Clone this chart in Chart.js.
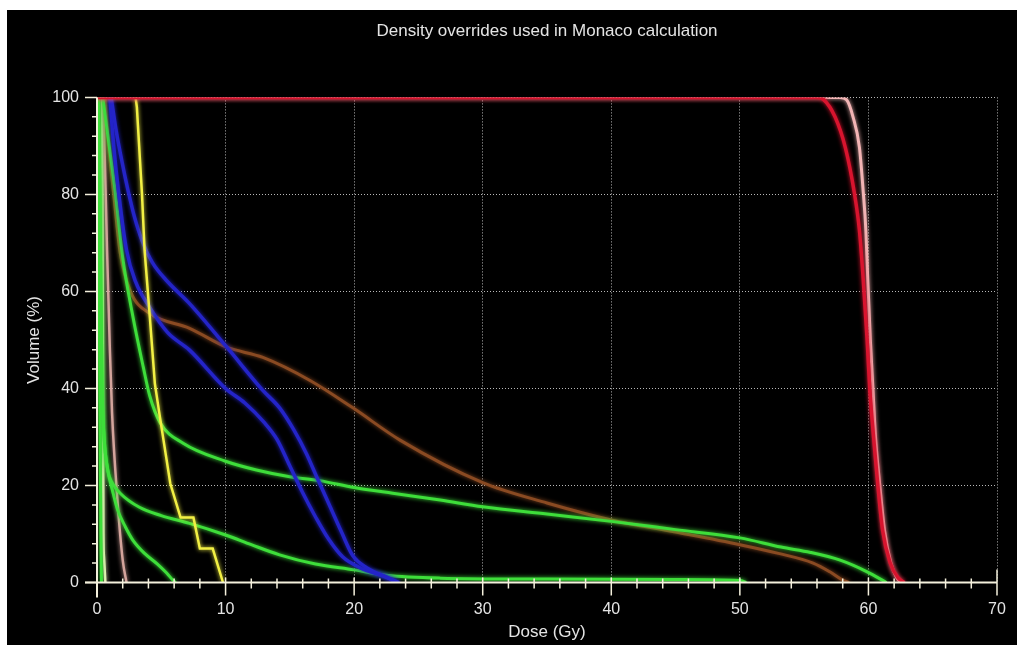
<!DOCTYPE html>
<html>
<head>
<meta charset="utf-8">
<script src="https://cdn.jsdelivr.net/npm/chart.js@4"></script>
<style>
  body { margin: 0; background: #fff; }
  #wrap { position: relative; width: 1021px; height: 652px; }
</style>
</head>
<body>
<div id="wrap"><canvas id="dvh"></canvas></div>
<script>
// dose (Gy) / volume (%)
const redDose   = [0, 56, 56.5, 57.4, 58.2, 58.9, 59.3, 59.6, 59.9, 60.1, 60.4, 60.7, 61.1, 61.7, 62.3, 62.8];
const redVol    = [100, 100, 99.6, 96, 89.7, 80.4, 72.6, 62.3, 50, 40, 30, 21, 10.8, 4, 1, 0];
const pinkDose  = [0, 57.8, 58.3, 58.8, 59.3, 59.6, 59.8, 59.95, 60.15, 60.35, 60.55, 60.85, 61.25, 61.75, 62.2, 62.6];
const pinkVol   = [100, 100, 99.5, 96, 89.7, 80.4, 72.6, 62.3, 50, 40, 30, 21, 10.8, 4, 1, 0];
const brownDose = [0.6, 0.9, 1.3, 1.8, 2.6, 4.1, 7.2, 10.1, 12.9, 16.6, 19.9, 23.6, 30, 35, 40, 45, 50, 53, 55.7, 57, 58, 58.5];
const brownVol  = [100, 90, 80, 68, 60, 55.5, 52.4, 48.5, 46.4, 41.6, 36, 29.3, 20.6, 16.4, 12.9, 10.4, 7.8, 6, 4, 2.2, 0.5, 0];
const greenADose = [0.45, 0.6, 1.0, 1.4, 2.0, 2.8, 3.6, 4.1, 4.9, 6.7, 10, 12.4, 15, 17.3, 20, 23, 26.7, 30, 35, 40, 45, 50, 53.2, 55.5, 57.8, 59.9, 61.4];
const greenAVol  = [100, 97, 89, 81, 67, 54.7, 44.4, 38.5, 33, 28.7, 25, 23.2, 21.8, 21, 19.6, 18.4, 17, 15.6, 14.1, 12.6, 10.9, 9.2, 7.3, 6.2, 4.6, 2.2, 0];
const greenBDose = [0.1, 0.2, 0.3, 0.4, 0.55, 0.85, 1.2, 1.8, 3.3, 5, 7.2, 10, 12, 14.2, 17, 20, 22.5, 26.7, 35, 45, 50, 50.5];
const greenBVol  = [100, 85, 60, 40, 30, 23, 20.5, 18.4, 15.5, 13.8, 12.2, 9.8, 7.8, 5.7, 3.8, 2.6, 1.5, 0.9, 0.7, 0.6, 0.4, 0];
const greenCDose = [0.1, 0.2, 0.3, 0.4, 0.55, 0.85, 1.2, 1.6, 2.2, 2.8, 3.7, 4.7, 5.4, 5.9, 6.1];
const greenCVol  = [100, 85, 60, 40, 30, 23, 19, 15, 11.5, 8.7, 6, 3.8, 2, 0.5, 0];
const greenDDose = [0.05, 0.15, 0.25, 0.3, 0.35];
const greenDVol  = [100, 70, 30, 10, 0];
const creamDose = [0.4, 0.45, 0.48, 0.5, 0.55, 0.65];
const creamVol  = [100, 60, 25, 10, 5, 0];
const rosyDose  = [0.5, 0.6, 0.78, 1.0, 1.17, 1.55, 2.0, 2.3];
const rosyVol   = [100, 88, 68.5, 48, 35, 18.4, 4.6, 0];
const blueUDose = [1.1, 1.5, 2.0, 2.4, 2.9, 3.5, 4.3, 5.5, 7.2, 10.1, 12.9, 14.2, 15.3, 16.3, 17.1, 17.9, 19.0, 19.9, 21, 22.5, 23.5];
const blueUVol  = [100, 93, 86, 81, 75.5, 70.5, 66, 62, 57.5, 48.5, 39.6, 36, 31.5, 26.5, 21.7, 17, 10.5, 5.5, 3, 1.1, 0];
const blueLDose = [1.0, 1.3, 1.7, 2.3, 3.0, 4.1, 5.5, 7.2, 10, 11.5, 13, 14, 15, 16, 17, 18, 19.1, 20.5, 22.5, 23.3];
const blueLVol  = [100, 90, 80, 68.5, 62, 56.7, 51.5, 47.9, 40, 37, 33, 29.5, 24, 18.5, 13.5, 9, 5.3, 3, 1.1, 0];
const yellowDose = [3.0, 3.1, 3.5, 3.7, 4.1, 4.5, 4.9, 5.7, 6.5, 7.5, 8.0, 9.0, 9.8];
const yellowVol  = [100, 98, 80, 68.5, 55, 41, 34, 20.4, 13.4, 13.4, 7, 7, 0];

const FONT = '"Liberation Sans", Arial, sans-serif';
const TEXT = '#e4e4e4';

function pts(d, v) {
  return d.map((x, i) => ({ x: x, y: v[i] }));
}

function curve(d, v, color, width, tension) {
  return {
    data: pts(d, v),
    borderColor: color,
    borderWidth: width || 3,
    pointRadius: 0,
    tension: tension === undefined ? 0.4 : tension,
    cubicInterpolationMode: tension === 0 ? 'default' : 'monotone'
  };
}

const bgPlugin = {
  id: 'bg',
  beforeDraw(chart) {
    const ctx = chart.ctx;
    ctx.save();
    ctx.fillStyle = '#fff';
    ctx.fillRect(0, 0, chart.width, chart.height);
    ctx.fillStyle = '#000';
    ctx.fillRect(7, 10, 1010, 635);
    ctx.restore();
  }
};

const glowPlugin = {
  id: 'glow',
  beforeDatasetDraw(chart, args) {
    const ctx = chart.ctx;
    ctx.save();
    ctx.shadowColor = chart.data.datasets[args.index].borderColor;
    ctx.shadowBlur = 4;
  },
  afterDatasetDraw(chart) {
    chart.ctx.restore();
  }
};

const axesPlugin = {
  id: 'axes',
  afterDatasetsDraw(chart) {
    const { ctx, scales: { x, y } } = chart;
    const x0 = x.getPixelForValue(0);
    const y0 = y.getPixelForValue(0);
    ctx.save();
    ctx.strokeStyle = '#f4f0dc';
    ctx.lineWidth = 2;
    ctx.beginPath();
    ctx.moveTo(x0 - 12, y0);
    ctx.lineTo(x.getPixelForValue(70), y0);
    ctx.moveTo(x0, y.getPixelForValue(100));
    ctx.lineTo(x0, y0 + 15);
    ctx.stroke();
    ctx.lineWidth = 1.5;
    ctx.beginPath();
    x.ticks.forEach(t => {
      const px = x.getPixelForValue(t.value);
      if (t.value === 70) { ctx.moveTo(px, y0 - 13); ctx.lineTo(px, y0 + 13); }
      else if (t.value % 10 === 0) { ctx.moveTo(px, y0 - 5); ctx.lineTo(px, y0 + 13); }
      else { ctx.moveTo(px, y0 - 4); ctx.lineTo(px, y0 + 6); }
    });
    y.ticks.forEach(t => {
      const py = y.getPixelForValue(t.value);
      if (t.value % 20 === 0) { ctx.moveTo(x0 - 12, py); ctx.lineTo(x0, py); }
      else { ctx.moveTo(x0 - 5, py); ctx.lineTo(x0 + 1, py); }
    });
    ctx.stroke();
    ctx.restore();
  }
};

const gridColor = (step) => (c) => (c.tick && c.tick.value > 0 && c.tick.value % step === 0) ? '#b8b8b8' : 'rgba(0,0,0,0)';

new Chart(document.getElementById('dvh'), {
  type: 'line',
  data: {
    datasets: [
      curve(redDose, redVol, '#d8142e', 3.5),
      curve(pinkDose, pinkVol, '#f2b4b4', 3),
      curve(yellowDose, yellowVol, '#f2f044', 2.5, 0),
      curve(blueUDose, blueUVol, '#2424c8', 3.5),
      curve(blueLDose, blueLVol, '#2424c8', 3.5),
      curve(greenADose, greenAVol, '#3ede3a', 3),
      curve(greenBDose, greenBVol, '#3ede3a', 3),
      curve(greenCDose, greenCVol, '#3ede3a', 3),
      curve(greenDDose, greenDVol, '#3ede3a', 3),
      curve(brownDose, brownVol, '#8a4a22', 3),
      curve(rosyDose, rosyVol, '#d4a49c', 2.5),
      curve(creamDose, creamVol, '#f8f0c4', 2.5)
    ]
  },
  options: {
    responsive: true,
    maintainAspectRatio: false,
    devicePixelRatio: 1,
    animation: false,
    layout: { padding: { left: 0, right: 24, top: 0, bottom: 0 } },
    plugins: {
      legend: { display: false },
      tooltip: { enabled: false },
      title: {
        display: true,
        fullSize: false,
        text: 'Density overrides used in Monaco calculation',
        color: TEXT,
        font: { family: FONT, size: 17, weight: 'normal', lineHeight: 1.2 },
        padding: { top: 21, bottom: 56 }
      }
    },
    scales: {
      x: {
        type: 'linear',
        min: 0,
        max: 70,
        afterFit: s => { s.height = 69.5; },
        ticks: {
          stepSize: 2,
          autoSkip: false,
          maxRotation: 0,
          color: TEXT,
          padding: 4,
          font: { family: FONT, size: 16 },
          callback: v => (v % 10 === 0 ? v : '')
        },
        grid: {
          color: gridColor(10),
          borderDash: [1, 2],
          lineWidth: 1,
          drawTicks: true,
          tickLength: 13,
          tickColor: 'rgba(0,0,0,0)'
        },
        border: { display: false, dash: [1, 2] },
        title: {
          display: true,
          text: 'Dose (Gy)',
          color: TEXT,
          font: { family: FONT, size: 17 },
          padding: { top: 0, bottom: 9 }
        }
      },
      y: {
        type: 'linear',
        min: 0,
        max: 100,
        afterFit: s => { s.width = 97; },
        ticks: {
          stepSize: 4,
          autoSkip: false,
          color: TEXT,
          padding: 6,
          font: { family: FONT, size: 16 },
          callback: v => (v % 20 === 0 ? v : '')
        },
        grid: {
          color: gridColor(20),
          borderDash: [1, 2],
          lineWidth: 1,
          drawTicks: true,
          tickLength: 12,
          tickColor: 'rgba(0,0,0,0)'
        },
        border: { display: false, dash: [1, 2] },
        title: {
          display: true,
          text: 'Volume (%)',
          color: TEXT,
          font: { family: FONT, size: 17 },
          padding: { top: 24, bottom: 0 }
        }
      }
    }
  },
  plugins: [bgPlugin, glowPlugin, axesPlugin]
});
</script>
</body>
</html>
